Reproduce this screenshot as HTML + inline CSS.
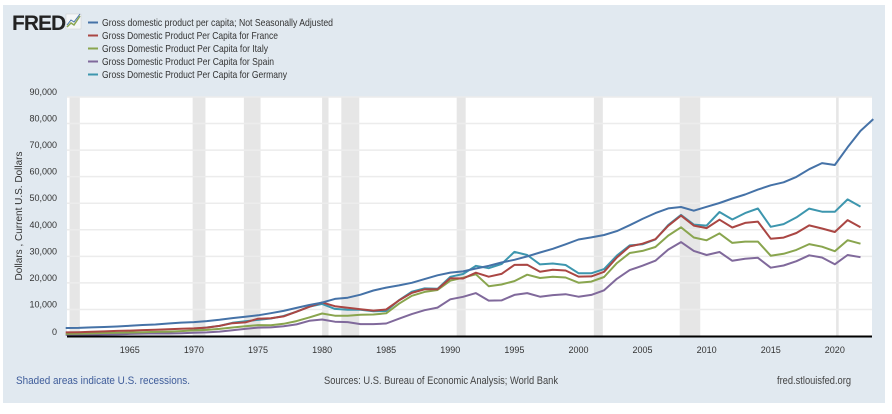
<!DOCTYPE html>
<html><head><meta charset="utf-8"><style>
body{margin:0;width:892px;height:409px;background:#fff;overflow:hidden;font-family:"Liberation Sans",Arial,sans-serif;}
</style></head><body>
<svg width="892" height="409" xmlns="http://www.w3.org/2000/svg">
<rect x="3" y="5" width="882" height="398" fill="#e1e9f0"/>
<g>
<text x="12" y="30" font-size="21" font-weight="bold" fill="#222" letter-spacing="-1">FRED</text>
<rect x="66" y="14" width="15" height="15" fill="#f4f6f8" stroke="#ccc" stroke-width="0.5"/>
<polyline points="67,27 71,23 74,25 80,16" fill="none" stroke="#89a54e" stroke-width="1.5"/>
<polyline points="67,25 71,20 74,22 80,14" fill="none" stroke="#4572a7" stroke-width="1"/>
</g>
<g id="legend" font-size="10.5" fill="#333"></g>
<rect x="67" y="97" width="805" height="239" fill="#fff"/>
<g id="rec"></g>
<g id="grid"></g>
<g id="yt" font-size="9" fill="#333" text-anchor="end"></g>
<g id="xt" font-size="9" fill="#333" text-anchor="middle"></g>
<text transform="translate(22,216) rotate(-90)" text-anchor="middle" font-size="10" fill="#333">Dollars , Current U.S. Dollars</text>
<g id="series"></g>
<line x1="67" x2="872" y1="336.5" y2="336.5" stroke="#000" stroke-width="2"/>
<text x="16" y="384" font-size="11" fill="#3e5c9a" textLength="174" lengthAdjust="spacingAndGlyphs">Shaded areas indicate U.S. recessions.</text>
<text x="324" y="384" font-size="11" fill="#444" textLength="234" lengthAdjust="spacingAndGlyphs">Sources: U.S. Bureau of Economic Analysis; World Bank</text>
<text x="777" y="384" font-size="11" fill="#444" textLength="74" lengthAdjust="spacingAndGlyphs">fred.stlouisfed.org</text>
</svg>
<script>
const names=["Gross domestic product per capita; Not Seasonally Adjusted","Gross Domestic Product Per Capita for France","Gross Domestic Product Per Capita for Italy","Gross Domestic Product Per Capita for Spain","Gross Domestic Product Per Capita for Germany"];
const colors=["#4572a7","#aa4643","#89a54e","#80699b","#3d96ae"];
const seriesKeys=["us","france","italy","spain","germany"];
const legendWidths=[231,176,166,172,185];
const usStart=1960;
const usVals=[3007,3067,3244,3375,3574,3828,4146,4336,4696,5032,5234,5609,6094,6726,7226,7801,8592,9453,10565,11674,12575,13976,14434,15544,17121,18237,19071,20039,21417,22857,23889,24342,25419,26387,27695,28691,29968,31459,32854,34515,36330,37134,38023,39496,41713,44115,46299,48050,48570,47195,48651,50066,51784,53291,55124,56763,57867,59915,62805,65095,64412,71056,77247,81695];
const franceStart=1960;
const franceVals=[1338,1429,1578,1744,1920,2048,2209,2366,2550,2750,2869,3164,3812,4833,5103,6526,6714,7390,9147,11011,12670,11207,10645,10084,9571,9971,13394,16239,17603,17618,21756,21654,23823,22312,23397,26785,26796,24204,24965,24671,22364,22434,24174,29568,33741,34761,36445,41508,45334,41575,40638,43790,40875,42603,43069,36653,37062,38781,41631,40494,39179,43659,40964];
const italyStart=1960;
const italyVals=[804,887,990,1126,1222,1303,1402,1545,1670,1833,2107,2303,2670,3204,3662,4116,4050,4594,5620,6990,8456,7641,7649,7983,8080,8540,12170,15124,16598,17334,20826,21955,23253,18740,19389,20665,23081,21830,22318,22036,20088,20483,22222,27466,31259,32043,33501,37822,40945,37079,36036,38650,35053,35550,35566,30230,30940,32407,34622,33640,31918,36089,34776];
const spainStart=1960;
const spainVals=[396,450,520,609,675,774,889,968,950,1068,1212,1361,1664,2167,2655,3152,3251,3651,4356,5742,6209,5394,5237,4491,4495,4699,6513,8238,9698,10682,13805,14776,16141,13339,13415,15475,16150,14789,15396,15722,14788,15468,17203,21557,24818,26484,28365,32549,35366,32042,30503,31637,28324,29059,29461,25732,26537,28185,30379,29555,26984,30490,29674];
const germanyStart=1970;
const germanyVals=[2761,3194,3788,4968,5566,6062,6594,7518,9136,11023,12093,10206,9892,9854,9313,9429,13463,16677,17931,17764,22304,23357,26444,25522,27077,31659,30505,26964,27289,26725,23636,23608,25205,30310,34107,34520,36354,41815,45613,41950,41573,46706,43856,46299,48024,41103,42136,44653,47974,46805,46773,51426,48718];
const recStarts=[1960.3,1969.9,1973.9,1980.0,1981.5,1990.5,2001.2,2007.9,2020.1];
const recEnds=[1961.1,1970.9,1975.2,1980.5,1982.9,1991.2,2001.9,2009.5,2020.3];
const yTicks=[0,10000,20000,30000,40000,50000,60000,70000,80000,90000];
const yTickLabels=["0","10,000","20,000","30,000","40,000","50,000","60,000","70,000","80,000","90,000"];
const xTicks=[1965,1970,1975,1980,1985,1990,1995,2000,2005,2010,2015,2020];

const NS="http://www.w3.org/2000/svg";
const X0=67,X1=872,Y0=336,Y1=97,T0=1960.1,T1=2022.9,V1=90000;
function xs(t){return X0+(t-T0)/(T1-T0)*(X1-X0);}
function ys(v){return Y0-(v/V1)*(Y0-Y1);}
function mk(tag,attrs,parent){const e=document.createElementNS(NS,tag);for(const k in attrs)e.setAttribute(k,attrs[k]);parent.appendChild(e);return e;}

const rec=document.getElementById('rec');
recStarts.forEach((s,i)=>{const e=recEnds[i];const a=Math.max(xs(s),X0);
const r=mk('rect',{x:a,y:Y1,width:xs(e)-a,height:Y0-Y1,fill:'#e6e6e6'},rec);

});

const grid=document.getElementById('grid'),yt=document.getElementById('yt');
yTicks.forEach((v,i)=>{
if(v>0){const l=mk('line',{x1:X0,x2:X1,y1:ys(v),y2:ys(v),stroke:'#ececec','stroke-width':1.5},grid);

}
const t=mk('text',{x:57,y:ys(v)+(v===0?-1:-2)},yt);t.textContent=yTickLabels[i];

});
const xt=document.getElementById('xt');
xTicks.forEach(y=>{const t=mk('text',{x:xs(y),y:353},xt);t.textContent=y;

});

const data=[[usStart,usVals],[franceStart,franceVals],[italyStart,italyVals],[spainStart,spainVals],[germanyStart,germanyVals]];
const sg=document.getElementById('series');
[4,3,2,1,0].forEach(i=>{const [st,vals]=data[i];
const pts=vals.map((v,j)=>xs(st+j).toFixed(1)+','+ys(v).toFixed(1)).join(' ');
const p=mk('polyline',{points:pts,fill:'none',stroke:colors[i],'stroke-width':2,'stroke-linejoin':'round'},sg);

});

const lg=document.getElementById('legend');
names.forEach((n,i)=>{const y=26+i*13;
const l=mk('line',{x1:88,x2:98,y1:y-3.5,y2:y-3.5,stroke:colors[i],'stroke-width':2},lg);


const t=mk('text',{x:102,y:y,textLength:legendWidths[i],lengthAdjust:'spacingAndGlyphs'},lg);t.textContent=n;

});
</script>
</body></html>
